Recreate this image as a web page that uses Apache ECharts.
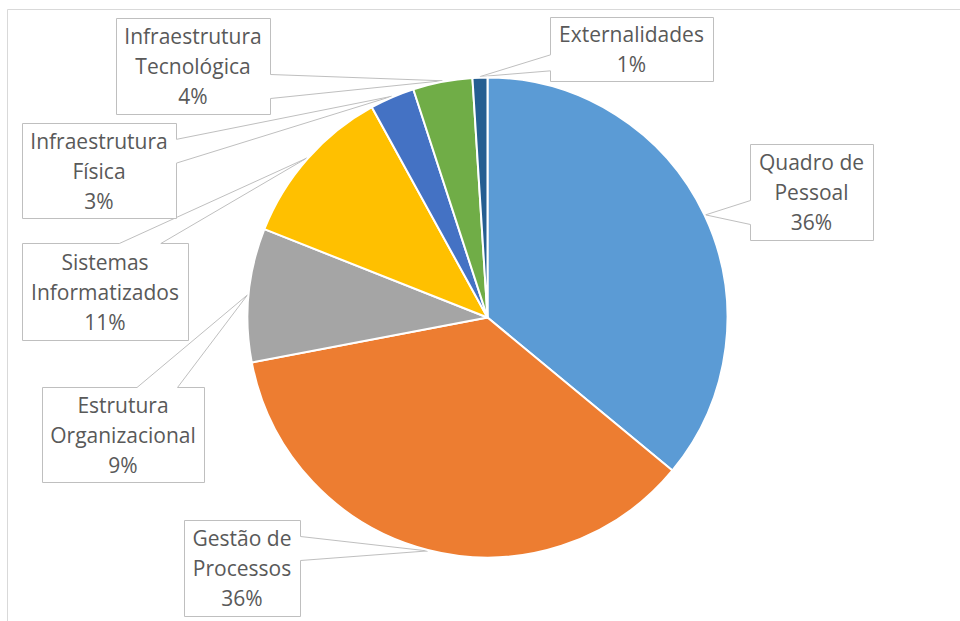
<!DOCTYPE html>
<html>
<head>
<meta charset="utf-8">
<script src="https://cdn.jsdelivr.net/npm/echarts@6/dist/echarts.min.js"></script>
<style>
  html, body { margin: 0; padding: 0; background: #ffffff; }
  #chart { width: 960px; height: 621px; }
</style>
</head>
<body>
<div id="chart"></div>
<script>
// Slice names (line breaks as shown in the callouts) and their shares in percent
const categories = [
  'Quadro de\nPessoal',
  'Gestão de\nProcessos',
  'Estrutura\nOrganizacional',
  'Sistemas\nInformatizados',
  'Infraestrutura\nFísica',
  'Infraestrutura\nTecnológica',
  'Externalidades'
];
const shares = [36, 36, 9, 11, 3, 4, 1];

// Office palette, one colour per slice
const colors = ['#5B9BD5', '#ED7D31', '#A5A5A5', '#FFC000', '#4472C4', '#70AD47', '#255E91'];

// Callout boxes: [left, top, width, height] in pixels
const boxes = [
  [750, 144, 123, 96],
  [184, 520, 116, 96],
  [42, 387, 162, 95],
  [22, 243, 166, 97],
  [22, 123, 154, 95],
  [116, 18, 154, 96],
  [550, 17, 163, 64]
];

const chart = echarts.init(document.getElementById('chart'), null, { renderer: 'svg' });

chart.setOption({
  backgroundColor: '#ffffff',
  animation: false,
  series: [{
    type: 'pie',
    center: [487.5, 317.5],
    radius: 240,
    startAngle: 90,
    clockwise: true,
    avoidLabelOverlap: false,
    z: 2,
    data: categories.map((name, i) => ({ name: name, value: shares[i], itemStyle: { color: colors[i] } })),
    itemStyle: { borderColor: '#ffffff', borderWidth: 2 },
    label: {
      show: true,
      position: 'outside',
      formatter: p => p.name + '\n' + p.value + '%',
      fontFamily: 'Open Sans',
      fontSize: 21,
      lineHeight: 30,
      color: '#595959',
      align: 'center'
    },
    labelLine: { show: false },
    labelLayout: p => {
      const b = boxes[p.dataIndex];
      return { x: b[0] + b[2] / 2, y: b[1] + b[3] / 2, align: 'center', verticalAlign: 'middle' };
    },
    emphasis: { disabled: true }
  }]
});

// Rectangle callout with a wedge pointing at `tip` (same geometry as a wedgeRectCallout shape)
function wedgeCallout(b, tip) {
  const l = b[0] + 0.5, t = b[1] + 0.5, w = b[2], h = b[3];
  const r = l + w, bt = t + h;
  const dx = tip[0] - (l + w / 2), dy = tip[1] - (t + h / 2);
  const dz = Math.abs(dy) - Math.abs(dx * h / w);
  const x1 = l + w * (dx > 0 ? 7 : 2) / 12, x2 = l + w * (dx > 0 ? 10 : 5) / 12;
  const y1 = t + h * (dy > 0 ? 7 : 2) / 12, y2 = t + h * (dy > 0 ? 10 : 5) / 12;
  const pts = [[l, t]];
  if (dz > 0 && dy < 0) pts.push([x1, t], tip, [x2, t]);
  pts.push([r, t]);
  if (dz <= 0 && dx > 0) pts.push([r, y1], tip, [r, y2]);
  pts.push([r, bt]);
  if (dz > 0 && dy > 0) pts.push([x2, bt], tip, [x1, bt]);
  pts.push([l, bt]);
  if (dz <= 0 && dx < 0) pts.push([l, y2], tip, [l, y1]);
  return pts;
}

// Point each callout at the middle of its slice's outer arc, using the pie's own layout
const pieData = chart.getModel().getSeriesByIndex(0).getData();
const graphics = [{
  type: 'rect',
  silent: true,
  z: 0,
  shape: { x: 7.5, y: 9.5, width: 1000, height: 700 },
  style: { fill: 'none', stroke: '#D9D9D9', lineWidth: 1 }
}];
boxes.forEach((b, i) => {
  const lay = pieData.getItemLayout(i);
  const mid = (lay.startAngle + lay.endAngle) / 2;
  const tip = [lay.cx + (lay.r + 1) * Math.cos(mid), lay.cy + (lay.r + 1) * Math.sin(mid)];
  graphics.push({
    type: 'polygon',
    silent: true,
    z: 1,
    shape: { points: wedgeCallout(b, tip) },
    style: { fill: '#ffffff', stroke: '#BFBFBF', lineWidth: 1 }
  });
});
chart.setOption({ graphic: graphics });
</script>
</body>
</html>
